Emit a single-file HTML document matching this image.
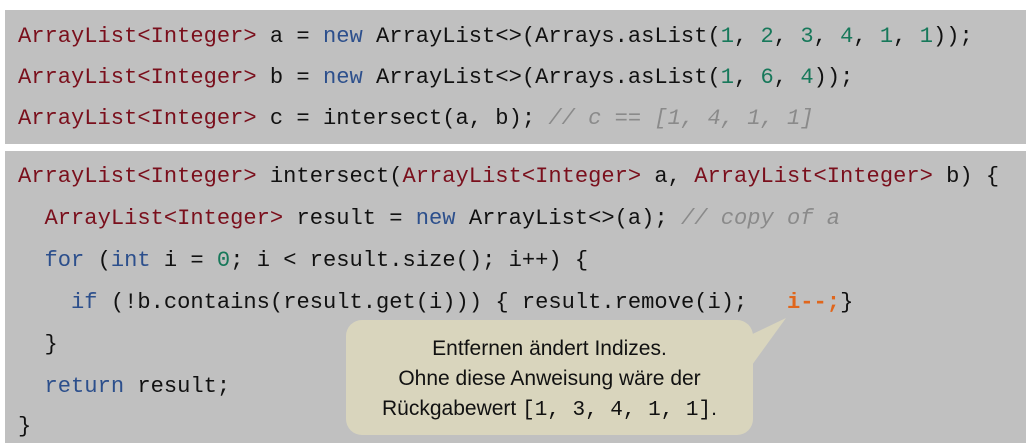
<!DOCTYPE html>
<html><head><meta charset="utf-8"><style>
body{margin:0;width:1032px;height:447px;background:#fff;position:relative;overflow:hidden}
.p{position:absolute;left:5px;width:1021px;background:#c0c0c0}
.c{position:absolute;left:18px;font:22.1px "Liberation Mono",monospace;color:#111;white-space:pre;line-height:26px}
.t{color:#7a0f1c}.k{color:#2c4f8c}.n{color:#17785a}.m{color:#8a8a8a;font-style:italic}
.o{color:#e0661c;font-weight:bold}
.bub{position:absolute;left:346px;top:320px;width:407px;height:115px;background:#d9d5bd;border-radius:16px;text-align:center;font:21px "Liberation Sans",sans-serif;color:#111;line-height:30px;padding-top:14px;box-sizing:border-box}
</style></head><body>
<div class="p" style="top:10px;height:134px"></div>
<div class="p" style="top:151px;height:292px"></div>
<div class="c" style="top:24px"><span class="t">ArrayList&lt;Integer&gt;</span> a = <span class="k">new</span> ArrayList&lt;&gt;(Arrays.asList(<span class="n">1</span>, <span class="n">2</span>, <span class="n">3</span>, <span class="n">4</span>, <span class="n">1</span>, <span class="n">1</span>));</div>
<div class="c" style="top:65px"><span class="t">ArrayList&lt;Integer&gt;</span> b = <span class="k">new</span> ArrayList&lt;&gt;(Arrays.asList(<span class="n">1</span>, <span class="n">6</span>, <span class="n">4</span>));</div>
<div class="c" style="top:106px"><span class="t">ArrayList&lt;Integer&gt;</span> c = intersect(a, b); <span class="m">// c == [1, 4, 1, 1]</span></div>
<div class="c" style="top:164px"><span class="t">ArrayList&lt;Integer&gt;</span> intersect(<span class="t">ArrayList&lt;Integer&gt;</span> a, <span class="t">ArrayList&lt;Integer&gt;</span> b) {</div>
<div class="c" style="top:206px">  <span class="t">ArrayList&lt;Integer&gt;</span> result = <span class="k">new</span> ArrayList&lt;&gt;(a); <span class="m">// copy of a</span></div>
<div class="c" style="top:248px">  <span class="k">for</span> (<span class="k">int</span> i = <span class="n">0</span>; i &lt; result.size(); i++) {</div>
<div class="c" style="top:290px">    <span class="k">if</span> (!b.contains(result.get(i))) { result.remove(i);   <span class="o">i--;</span>}</div>
<div class="c" style="top:332px">  }</div>
<div class="c" style="top:374px">  <span class="k">return</span> result;</div>
<div class="c" style="top:414px">}</div>
<svg style="position:absolute;left:0;top:0" width="1032" height="447"><polygon points="740,340 786,318 752,365" fill="#d9d5bd"/></svg>
<div class="bub">Entfernen ändert Indizes.<br>Ohne diese Anweisung wäre der<br>Rückgabewert <span style="font-family:'Liberation Mono',monospace">[1, 3, 4, 1, 1]</span>.</div>
</body></html>
